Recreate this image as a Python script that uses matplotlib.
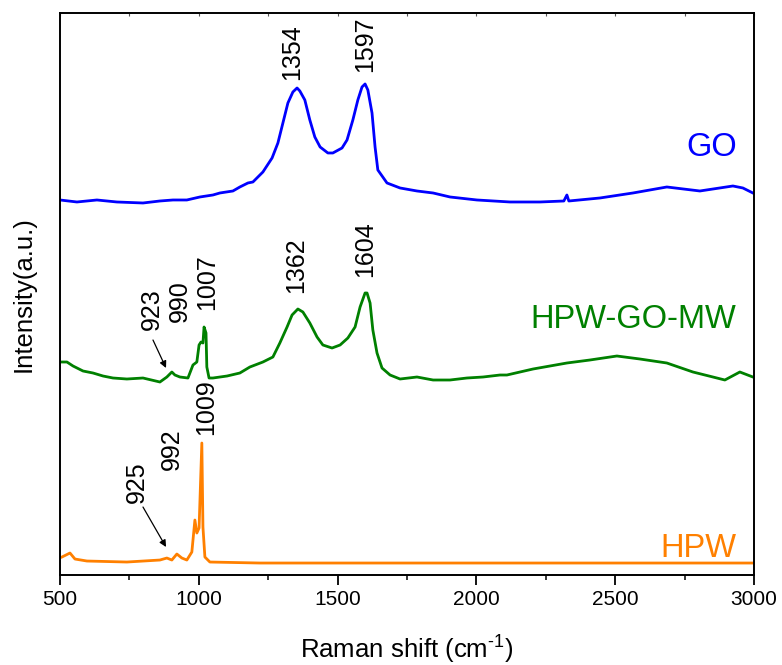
import matplotlib
matplotlib.use("Agg")
import matplotlib.pyplot as plt
from matplotlib.ticker import MultipleLocator

plt.rcParams['font.family'] = ['Liberation Sans', 'DejaVu Sans']
plt.rcParams['mathtext.fontset'] = 'custom'
plt.rcParams['mathtext.rm'] = 'Liberation Sans'
plt.rcParams['mathtext.it'] = 'Liberation Sans:italic'

# espectro GO (intensidad en u.a.)
go_shift = [500, 561, 633, 705, 799, 860, 907, 957, 1004, 1051, 1076, 1123,
            1148, 1177, 1195, 1231, 1264, 1285, 1303, 1321, 1339, 1354, 1364,
            1382, 1400, 1418, 1437, 1465, 1483, 1516, 1534, 1555, 1573, 1588,
            1599, 1609, 1624, 1635, 1645, 1678, 1725, 1786, 1844, 1905, 2002,
            2121, 2229, 2315, 2326, 2333, 2445, 2564, 2686, 2805, 2924, 2960,
            2996]
go_int = [375, 373, 375, 373, 372, 374, 375, 375, 378, 380, 382, 384,
          388, 392, 393, 403, 417, 432, 452, 472, 483, 487, 484,
          475, 455, 438, 428, 422, 422, 427, 435, 455, 475, 488,
          491, 485, 462, 428, 405, 392, 387, 384, 382, 378, 375,
          373, 373, 374, 380, 374, 377, 382, 388, 384, 389, 387,
          382]

# espectro HPW-GO-MW
mw_shift = [507, 525, 547, 583, 619, 655, 691, 741, 799, 860, 885, 903, 914,
            932, 961, 979, 993, 1001, 1008, 1015, 1019, 1026, 1029, 1037, 1051,
            1102, 1148, 1184, 1231, 1267, 1292, 1318, 1336, 1357, 1375, 1400,
            1426, 1447, 1480, 1509, 1537, 1563, 1581, 1599, 1606, 1617, 1627,
            1642, 1660, 1689, 1725, 1786, 1844, 1905, 1966, 2024, 2085, 2110,
            2204, 2326, 2409, 2506, 2589, 2686, 2780, 2852, 2895, 2949, 2996]
mw_int = [213, 213, 209, 204, 202, 199, 197, 196, 197, 193, 198, 203, 200,
          198, 197, 210, 213, 230, 233, 232, 248, 242, 208, 197, 197,
          199, 202, 208, 213, 218, 232, 248, 260, 266, 263, 252,
          238, 230, 227, 230, 237, 248, 268, 282, 282, 272, 245,
          222, 207, 200, 196, 198, 195, 195, 197, 198, 200, 200,
          206, 212, 215, 219, 216, 212, 203, 198, 195, 203, 198]

# espectro HPW
hpw_shift = [507, 536, 554, 597, 741, 860, 885, 903, 921, 939, 957, 975, 986,
             993, 1001, 1011, 1015, 1022, 1040, 1220, 3000]
hpw_int = [18, 22, 16, 14, 13, 15, 17, 15, 21, 17, 15, 23, 55,
           42, 47, 132, 48, 18, 13, 12, 12]

# etiquetas de picos: (texto, x, y)
peak_labels = [("1354", 1336, 495), ("1597", 1599, 503),
               ("1362", 1350, 282), ("1604", 1599, 298),
               ("923", 831, 245), ("990", 932, 253), ("1007", 1030, 265),
               ("925", 777, 72), ("992", 903, 105), ("1009", 1026, 140)]

# flechas: (inicio, fin)
arrows = [((835, 235), (882, 207)), ((799, 68), (882, 28))]

series_names = ["GO", "HPW-GO-MW", "HPW"]
series_colors = ["#0000FF", "#008000", "#FF8000"]
name_pos = [(2849, 427), (2564, 255), (2798, 27)]

fig = plt.figure(figsize=(7.82, 6.65), dpi=100)
ax = fig.add_axes([0.0767, 0.1353, 0.8875, 0.8452])

ax.plot(go_shift, go_int, color=series_colors[0], lw=2.0)
ax.plot(mw_shift, mw_int, color=series_colors[1], lw=2.0)
ax.plot(hpw_shift, hpw_int, color=series_colors[2], lw=2.0)

for txt, x, y in peak_labels:
    ax.text(x, y, txt, rotation=90, ha="center", va="bottom", fontsize=18)

for (x0, y0), (x1, y1) in arrows:
    ax.annotate("", xy=(x1, y1), xytext=(x0, y0),
                arrowprops=dict(arrowstyle="-|>", color="black", lw=0.9,
                                mutation_scale=10, shrinkA=0, shrinkB=0))

for name, col, (x, y) in zip(series_names, series_colors, name_pos):
    ax.text(x, y, name, color=col, fontsize=23.5, ha="center", va="center")

ax.set_xlim(500, 3000)
ax.set_ylim(0, 562)
ax.set_xticks([500, 1000, 1500, 2000, 2500, 3000])
ax.xaxis.set_minor_locator(MultipleLocator(250))
ax.set_yticks([])
ax.tick_params(axis="x", which="major", direction="out", length=7, width=1.3,
               labelsize=15, pad=4)
ax.tick_params(axis="x", which="minor", direction="out", length=3.5, width=1.1)

top = ax.secondary_xaxis("top")
top.set_xticks([500, 1000, 1500, 2000, 2500, 3000])
top.xaxis.set_minor_locator(MultipleLocator(250))
top.tick_params(which="both", direction="in", length=2.5, width=0.8,
                labeltop=False, color="#555555")

for sp in ax.spines.values():
    sp.set_linewidth(1.4)
top.spines["top"].set_visible(False)

ax.set_xlabel(r"Raman shift (cm$^{\text{-1}}$)", fontsize=18.5)
ax.xaxis.set_label_coords(0.5, -0.105)
ax.set_ylabel("Intensity(a.u.)", fontsize=18.5)
ax.yaxis.set_label_coords(-0.035, 0.5)

fig.savefig("out.png", dpi=100)
